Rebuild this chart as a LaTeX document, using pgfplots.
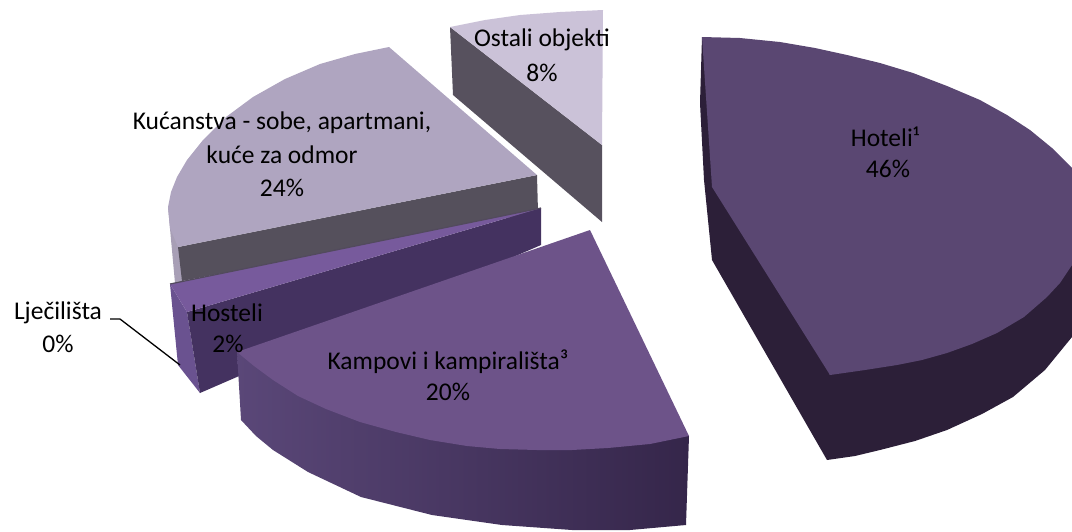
\documentclass[border=0pt]{standalone}
\usepackage{fontspec}
\setmainfont{Carlito}
\usepackage{pgfplots}
\pgfplotsset{compat=1.18}
\definecolor{hotTop}{HTML}{5A4772}
\definecolor{hotSide}{HTML}{2C1F38}
\definecolor{kamTop}{HTML}{6D5389}
\definecolor{kamL}{HTML}{5A4778}
\definecolor{kamR}{HTML}{35264A}
\definecolor{hosTop}{HTML}{775A9C}
\definecolor{hosIn}{HTML}{443260}
\definecolor{hosOut}{HTML}{6A5290}
\definecolor{kucTop}{HTML}{AFA5C0}
\definecolor{kucSide}{HTML}{55505C}
\definecolor{ostTop}{HTML}{CBC2D8}
\definecolor{ostSide}{HTML}{57515E}
\tikzset{lbl/.style={font=\fontsize{25.5}{30}\selectfont,text=black,inner sep=0pt,anchor=center}}
\begin{document}
\begin{tikzpicture}
\begin{axis}[
  name=ax,
  width=1072pt,height=531pt,scale only axis,
  xmin=0,xmax=1072,ymin=0,ymax=531,y dir=reverse,
  hide axis,clip=true,
  every axis plot/.append style={line join=round}
]
% Kucanstva
\addplot[draw=none,fill=kucTop!85!gray] coordinates {(168,207)(175,283)(184,281)(178,240)} --cycle;
\addplot[draw=none,fill=kucSide] coordinates {(178,247)(537,175)(538,212)(182,281)} --cycle;
\addplot[draw=none,fill=kucTop] coordinates {(389,47)(355,54)(320,64)(285,79)(253,97)(226,117)(203,140)(187,160)(177,177)(171,192)(168,207)(170,228)(178,247)(537,175)} --cycle;
% Ostali
\addplot[draw=none,fill=ostSide] coordinates {(450,27)(602,145)(602,222)(453,95)} --cycle;
\addplot[draw=none,fill=ostTop] coordinates {(450,27)(485,20)(520,15)(560,12)(603,10)(602,145)} --cycle;
% Hoteli
\addplot[draw=none,fill=hotSide] coordinates {(702,37)(700,103)(704,180)(712,260)(827,460)(855,456)(880,450)(915,441)(947,430)(982,414)(1013,397)(1045,370)(1072,337)(1072,265)(830,375)} --cycle;
\addplot[draw=none,fill=hotTop] coordinates {(702,37)(740,38)(780,42)(815,48)(847,55)(880,63)(913,73)(947,86)(980,100)(1007,115)(1030,130)(1052,148)(1072,168)(1072,265)(1060,283)(1047,297)(1024,317)(997,333)(972,344)(947,353)(922,360)(897,365)(865,370)(830,375)(712,187)} --cycle;
% Hosteli
\addplot[draw=none,fill=hosOut] coordinates {(170,284)(187,312)(200,393)(178,365)} --cycle;
\addplot[draw=none,fill=hosIn] coordinates {(187,312)(541,208)(541,245)(200,393)} --cycle;
\addplot[draw=none,fill=hosTop] coordinates {(170,284)(541,208)(187,312)} --cycle;
\addplot[color=kucSide!80!hosIn,line width=1.2pt] coordinates {(170,284)(541,208)};
% Kampovi
\addplot[draw=none,left color=kamL,right color=kamR] coordinates {(237,352)(241,420)(256,436)(273,450)(308,472)(361,497)(432,515)(502,525)(572,530)(630,530)(686,525)(689,436)} --cycle;
\addplot[draw=none,fill=kamTop] coordinates {(590,230)(689,436)(650,444)(608,448)(572,450)(537,450)(500,449)(467,446)(430,440)(396,432)(360,422)(326,409)(298,396)(273,380)(254,366)(237,352)} --cycle;
% leader
\addplot[color=black,line width=1.3pt] coordinates {(110,319)(120,319)(180,365)};
% labels
\node[lbl] at (axis cs:885,137) {Hoteli¹};
\node[lbl] at (axis cs:888,169) {46\%};
\node[lbl] at (axis cs:542,40) {Ostali objekti};
\node[lbl] at (axis cs:542,73) {8\%};
\node[lbl] at (axis cs:282,123) {Kućanstva - sobe, apartmani,};
\node[lbl] at (axis cs:282,155) {kuće za odmor};
\node[lbl] at (axis cs:282,188) {24\%};
\node[lbl] at (axis cs:448,362) {Kampovi i kampirališta³};
\node[lbl] at (axis cs:448,392) {20\%};
\node[lbl] at (axis cs:227,313) {Hosteli};
\node[lbl] at (axis cs:228,344) {2\%};
\node[lbl] at (axis cs:58,313) {Lječilišta};
\node[lbl] at (axis cs:58,344) {0\%};
\end{axis}
\useasboundingbox (ax.south west) rectangle (ax.north east);
\end{tikzpicture}
\end{document}
